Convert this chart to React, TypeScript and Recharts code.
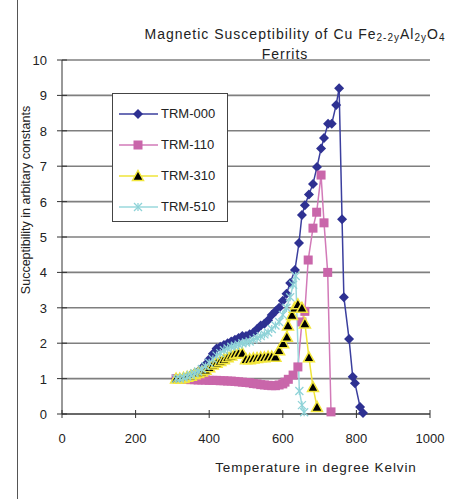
import { CartesianGrid, Legend, Line, LineChart, XAxis, YAxis } from 'recharts';

const tempTicks = [0, 200, 400, 600, 800, 1000];
const suscTicks = [0, 1, 2, 3, 4, 5, 6, 7, 8, 9, 10];

const trm000Temp = [310, 320, 330, 340, 350, 360, 370, 380, 390, 400, 410, 420, 430, 440, 450, 460, 470, 480, 490, 500, 510, 520, 530, 540, 550, 560, 570, 580, 590, 600, 610, 620, 633, 644, 652, 660, 671, 682, 693, 704, 712, 723, 733, 745, 753, 761, 766, 780, 790, 796, 810, 818];
const trm000Susc = [1.0, 1.0, 1.02, 1.05, 1.1, 1.15, 1.2, 1.3, 1.4, 1.55, 1.7, 1.85, 1.9, 1.95, 2.0, 2.05, 2.1, 2.15, 2.2, 2.2, 2.25, 2.3, 2.4, 2.5, 2.55, 2.65, 2.8, 2.9, 3.0, 3.2, 3.4, 3.7, 4.07, 4.83, 5.62, 5.9, 6.2, 6.5, 6.98, 7.5, 7.8, 8.2, 8.2, 8.73, 9.2, 5.5, 3.3, 2.12, 1.05, 0.87, 0.2, 0.03];

const trm110Temp = [310, 320, 330, 340, 350, 360, 370, 380, 390, 400, 410, 420, 430, 440, 450, 460, 470, 480, 490, 500, 510, 520, 530, 540, 550, 560, 570, 580, 590, 600, 606, 615, 628, 641, 652, 660, 669, 682, 692, 704, 712, 722, 731];
const trm110Susc = [1.0, 0.99, 0.98, 0.98, 0.97, 0.97, 0.96, 0.96, 0.96, 0.95, 0.95, 0.95, 0.94, 0.94, 0.93, 0.93, 0.92, 0.91, 0.9, 0.89, 0.88, 0.86, 0.85, 0.83, 0.82, 0.81, 0.8, 0.8, 0.82, 0.85, 0.9, 0.98, 1.1, 1.33, 2.6, 2.9, 4.35, 5.25, 5.7, 6.75, 5.4, 4.0, 0.06];

const trm310Temp = [310, 320, 330, 340, 350, 360, 370, 380, 390, 400, 410, 420, 430, 440, 450, 460, 470, 480, 490, 500, 510, 520, 530, 540, 550, 560, 570, 580, 590, 601, 611, 614, 625, 632, 641, 652, 660, 671, 682, 693];
const trm310Susc = [1.0, 1.0, 1.02, 1.05, 1.08, 1.12, 1.16, 1.2, 1.25, 1.32, 1.4, 1.45, 1.5, 1.55, 1.6, 1.65, 1.7, 1.72, 1.72, 1.55, 1.55, 1.57, 1.58, 1.6, 1.6, 1.62, 1.62, 1.62, 1.8, 2.0, 2.18, 2.5, 2.8, 3.0, 3.1, 3.0, 2.56, 1.6, 0.76, 0.2];

const trm510Temp = [310, 320, 330, 340, 350, 360, 370, 380, 390, 400, 410, 420, 430, 440, 450, 460, 470, 480, 490, 500, 510, 520, 530, 540, 550, 560, 570, 580, 590, 600, 610, 620, 628, 635, 645, 652, 658];
const trm510Susc = [1.0, 1.0, 1.03, 1.06, 1.1, 1.15, 1.2, 1.27, 1.35, 1.45, 1.55, 1.65, 1.72, 1.8, 1.85, 1.9, 1.93, 1.96, 2.0, 2.02, 2.05, 2.1, 2.15, 2.2, 2.25, 2.3, 2.4, 2.5, 2.6, 2.8, 3.0, 3.3, 3.65, 3.9, 0.65, 0.25, 0.05];

const toPoints = (ts: number[], ss: number[]) => ts.map((t, i) => ({ t, s: ss[i] }));

const series = [
  { name: 'TRM-000', data: toPoints(trm000Temp, trm000Susc), stroke: '#3b3f9e', kind: 'diamond' },
  { name: 'TRM-110', data: toPoints(trm110Temp, trm110Susc), stroke: '#d27ab8', kind: 'square' },
  { name: 'TRM-310', data: toPoints(trm310Temp, trm310Susc), stroke: '#efe43a', kind: 'triangle' },
  { name: 'TRM-510', data: toPoints(trm510Temp, trm510Susc), stroke: '#9ad8dc', kind: 'cross' },
];

const font = '"Liberation Sans", Arial, sans-serif';

const Marker = ({ kind, cx, cy }: { kind: string; cx: number; cy: number }) => {
  if (kind === 'diamond')
    return <polygon points={`${cx},${cy - 5} ${cx + 5},${cy} ${cx},${cy + 5} ${cx - 5},${cy}`} fill="#2e3192" />;
  if (kind === 'square') return <rect x={cx - 4.5} y={cy - 4.5} width={9} height={9} fill="#c966aa" />;
  if (kind === 'triangle')
    return (
      <polygon
        points={`${cx},${cy - 5.5} ${cx + 5.5},${cy + 4.5} ${cx - 5.5},${cy + 4.5}`}
        fill="#000"
        stroke="#f2e63c"
        strokeWidth={1.5}
      />
    );
  return (
    <g stroke="#8fd3d8" strokeWidth={1.3}>
      <line x1={cx - 4} y1={cy - 4} x2={cx + 4} y2={cy + 4} />
      <line x1={cx - 4} y1={cy + 4} x2={cx + 4} y2={cy - 4} />
      <line x1={cx} y1={cy - 4} x2={cx} y2={cy + 4} />
    </g>
  );
};

const makeDot = (kind: string) => (props: any) => {
  const { cx, cy, index } = props;
  if (cx == null || cy == null) return <g key={index} />;
  return (
    <g key={index}>
      <Marker kind={kind} cx={cx} cy={cy} />
    </g>
  );
};

const YTick = (props: any) => {
  const { x, y, payload } = props;
  return (
    <g>
      <line x1={x - 5} x2={x + 5} y1={y} y2={y} stroke="#333" />
      <text x={x - 15} y={y} dy={5} textAnchor="end" fontSize={13} fontFamily={font} fill="#222">
        {payload.value}
      </text>
    </g>
  );
};

const XTick = (props: any) => {
  const { x, y, payload } = props;
  return (
    <g>
      <line x1={x} x2={x} y1={y - 4} y2={y + 4} stroke="#333" />
      <text x={x} y={y + 29} textAnchor="middle" fontSize={13} fontFamily={font} fill="#222">
        {payload.value}
      </text>
    </g>
  );
};

const LegendBox = () => (
  <div
    style={{
      width: 114,
      height: 123,
      border: '1px solid #444',
      background: '#fff',
      fontFamily: font,
      fontSize: 13,
      color: '#222',
      boxSizing: 'content-box',
      paddingTop: 4,
    }}
  >
    {series.map((s) => (
      <div key={s.name} style={{ display: 'flex', alignItems: 'center', height: 31 }}>
        <svg width={48} height={14} style={{ display: 'block' }}>
          <line x1={6} x2={45} y1={7} y2={7} stroke={s.stroke} strokeWidth={1.5} />
          <Marker kind={s.kind} cx={25} cy={7} />
        </svg>
        <span>{s.name}</span>
      </div>
    ))}
  </div>
);

export default function App() {
  return (
    <div
      style={{
        position: 'absolute',
        left: 0,
        top: 0,
        width: 451,
        height: 499,
        overflow: 'hidden',
        background: '#fff',
      }}
    >
      <div style={{ position: 'absolute', left: 17, top: 0, width: 1, height: 499, background: '#555' }} />
      <LineChart width={451} height={499} margin={{ top: 60, right: 21, left: 17, bottom: 35 }}>
        <CartesianGrid horizontal vertical={false} stroke="#7f7f7f" strokeWidth={1.6} />
        <XAxis
          type="number"
          dataKey="t"
          domain={[0, 1000]}
          ticks={tempTicks}
          tickSize={0}
          tickMargin={0}
          tickLine={false}
          height={50}
          axisLine={{ stroke: '#333' }}
          tick={<XTick />}
          label={{
            content: () => (
              <text x={316} y={472} textAnchor="middle" fontSize={13.5} letterSpacing={0.9} fontFamily={font} fill="#222">
                Temperature in degree Kelvin
              </text>
            ),
          }}
        />
        <YAxis
          type="number"
          dataKey="s"
          domain={[0, 10]}
          ticks={suscTicks}
          tickSize={0}
          tickMargin={0}
          tickLine={false}
          width={45}
          axisLine={{ stroke: '#333' }}
          tick={<YTick />}
          label={{
            content: () => (
              <text
                x={30}
                y={200}
                transform="rotate(-90 30 200)"
                textAnchor="middle"
                fontSize={12.5}
                fontFamily={font}
                fill="#222"
              >
                Succeptibility in arbitary constants
              </text>
            ),
          }}
        />
        <Legend
          layout="vertical"
          align="center"
          verticalAlign="middle"
          wrapperStyle={{ left: 112, top: 93, width: 116 }}
          content={() => <LegendBox />}
        />
        {series.map((s) => (
          <Line
            key={s.name}
            name={s.name}
            data={s.data}
            dataKey="s"
            stroke={s.stroke}
            strokeWidth={1.5}
            dot={makeDot(s.kind)}
            activeDot={false}
            isAnimationActive={false}
          />
        ))}
      </LineChart>
      <div
        style={{
          position: 'absolute',
          left: 125,
          top: 26,
          width: 340,
          textAlign: 'center',
          fontFamily: font,
          fontSize: 14,
          lineHeight: '16px',
          color: '#222',
          letterSpacing: 1,
          whiteSpace: 'nowrap',
        }}
      >
        <div>
          Magnetic Susceptibility of Cu Fe<sub style={{ fontSize: 10, verticalAlign: -2 }}>2-2y</sub>Al
          <sub style={{ fontSize: 10, verticalAlign: -2 }}>2y</sub>O<sub style={{ fontSize: 10, verticalAlign: -2 }}>4</sub>
        </div>
        <div style={{ marginLeft: -20 }}>Ferrits</div>
      </div>
    </div>
  );
}
